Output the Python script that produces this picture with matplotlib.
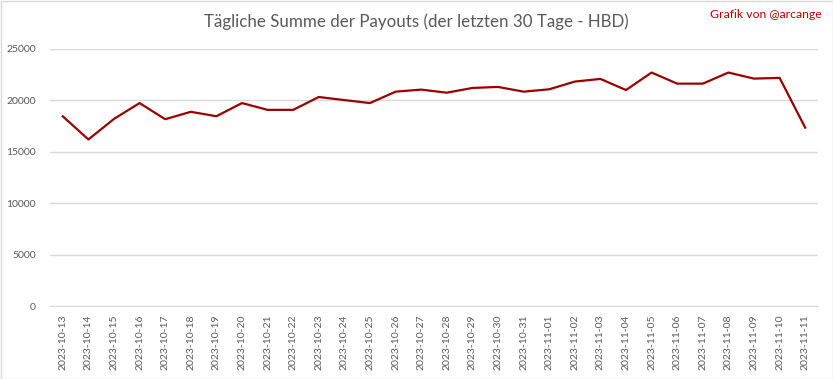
import matplotlib
matplotlib.use("Agg")
import matplotlib.pyplot as plt
from matplotlib.patches import Rectangle

dates = ["2023-10-13", "2023-10-14", "2023-10-15", "2023-10-16", "2023-10-17",
         "2023-10-18", "2023-10-19", "2023-10-20", "2023-10-21", "2023-10-22",
         "2023-10-23", "2023-10-24", "2023-10-25", "2023-10-26", "2023-10-27",
         "2023-10-28", "2023-10-29", "2023-10-30", "2023-10-31", "2023-11-01",
         "2023-11-02", "2023-11-03", "2023-11-04", "2023-11-05", "2023-11-06",
         "2023-11-07", "2023-11-08", "2023-11-09", "2023-11-10", "2023-11-11"]
payouts = [18450, 16200, 18200, 19740, 18170,
           18890, 18460, 19740, 19080, 19080,
           20330, 20030, 19740, 20850, 21050,
           20750, 21210, 21310, 20850, 21080,
           21830, 22090, 21010, 22710, 21630,
           21630, 22710, 22120, 22190, 17350]
yticks = [0, 5000, 10000, 15000, 20000, 25000]
title = "Tägliche Summe der Payouts (der letzten 30 Tage - HBD)"
credit = "Grafik von @arcange"

plt.rcParams['font.family'] = ['Lato', 'DejaVu Sans']

fig = plt.figure(figsize=(8.33, 3.79), dpi=100)
ax = fig.add_axes([50/833, 1-306/379, 768/833, (306-49)/379])

x = list(range(len(dates)))
ax.plot(x, payouts, color="#990000", linewidth=1.6, solid_joinstyle="round")

ax.set_xlim(-0.5, len(dates) - 0.5)
ax.set_ylim(0, 25000)
ax.set_yticks(yticks)
ax.set_yticklabels([str(v) for v in yticks])
ax.set_xticks(x)
ax.set_xticklabels(dates, rotation=90)

ax.grid(axis="y", color="#d9d9d9", linewidth=1)
ax.set_axisbelow(True)
for s in ["top", "right", "left"]:
    ax.spines[s].set_visible(False)
ax.spines["bottom"].set_color("#d9d9d9")
ax.tick_params(axis="both", length=0, colors="#595959", labelsize=7.5)
ax.tick_params(axis="y", pad=10)
ax.tick_params(axis="x", pad=6)

fig.text(0.5, 1-22/379, title, ha="center", va="center", fontsize=12.2, color="#595959")
fig.text(822/833, 1-14/379, credit, ha="right", va="center", fontsize=8.8, color="#c00000")

fig.patches.append(Rectangle((0.5/833, 0.5/379), 1-1/833, 1-1/379, transform=fig.transFigure,
                             fill=False, edgecolor="#d9d9d9", linewidth=1))

fig.savefig("out.png", dpi=100)
